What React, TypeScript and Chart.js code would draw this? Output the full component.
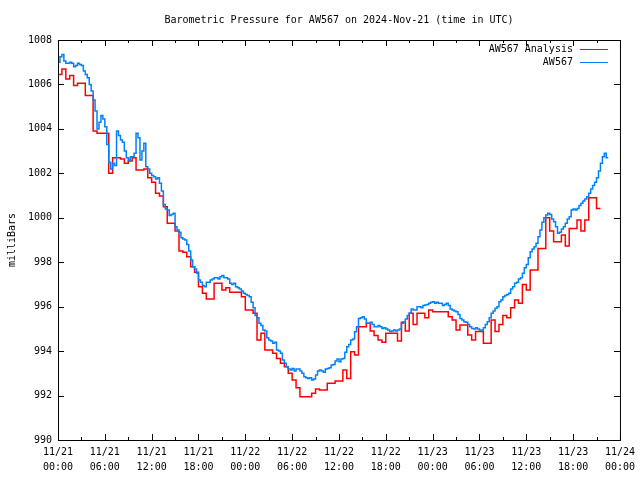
import React, { useEffect, useRef } from "react";
import { Chart, registerables } from "chart.js";

Chart.register(...registerables);

// ---------- data ----------
const TITLE = "Barometric Pressure for AW567 on 2024-Nov-21 (time in UTC)";
const Y_LABEL = "milliBars";
const SERIES_NAMES = ["AW567 Analysis", "AW567"];
const SERIES_COLORS = ["#ff0000", "#0080ff"];
const START_MONTH = 11;
const START_DAY = 21;
const ANALYSIS_STEP_HOURS = 0.5; // spacing of analysis samples
const STATION_STEP_HOURS = 0.25; // spacing of station samples
const X_MIN = 0;
const X_MAX = 72;
const X_MAJOR_STEP = 6;
const X_MINOR_STEP = 3;
const Y_MIN = 990;
const Y_MAX = 1008;
const Y_STEP = 2;

// AW567 Analysis (red, stepped), every 30 min from 11/21 00:00
const analysisValues = [
  1006.45, 1006.45, 1006.7, 1006.25, 1006.4, 1005.95, 1006.05, 1006.05, 1005.5, 1005.5,
  1003.9, 1003.8, 1003.8, 1003.8, 1002.0, 1002.7, 1002.7, 1002.65, 1002.45, 1002.55,
  1002.7, 1002.15, 1002.15, 1002.2, 1001.8, 1001.6, 1001.1, 1000.98, 1000.5, 999.75,
  999.75, 999.4, 998.5, 998.45, 998.25, 997.8, 997.55, 996.9, 996.6, 996.35,
  996.35, 997.05, 997.05, 996.75, 996.85, 996.65, 996.65, 996.65, 996.45, 995.85,
  995.85, 995.7, 994.5, 994.8, 994.05, 994.05, 993.9, 993.67, 993.45, 993.3,
  993.0, 992.7, 992.35, 991.95, 991.95, 991.95, 992.1, 992.3, 992.25, 992.25,
  992.55, 992.55, 992.65, 992.65, 993.15, 992.77, 993.97, 993.82, 995.1, 995.1,
  995.25, 994.9, 994.7, 994.5, 994.4, 994.8, 994.8, 994.8, 994.45, 995.3,
  994.9, 995.7, 995.2, 995.7, 995.7, 995.5, 995.85, 995.77, 995.77, 995.77,
  995.77, 995.55, 995.4, 994.95, 995.17, 995.17, 994.72, 994.5, 994.88, 994.88,
  994.35, 994.35, 995.4, 994.88, 995.2, 995.6, 995.5, 995.95, 996.3, 996.15,
  997.0, 996.75, 997.65, 997.65, 998.62, 998.62, 1000.0, 999.4, 998.92, 998.92,
  999.22, 998.73, 999.52, 999.52, 999.9, 999.4, 999.9, 1000.9, 1000.9, 1000.42,
];

// AW567 observations (blue), every 15 min from 11/21 00:00 (one row per hour)
const stationValues = [
  1007.1, 1007.0, 1007.25, 1007.35,
  1007.05, 1006.95, 1006.95, 1007.0,
  1006.95, 1006.8, 1006.85, 1006.95,
  1006.9, 1006.85, 1006.6, 1006.45,
  1006.3, 1006.0, 1005.7, 1005.3,
  1004.8, 1004.0, 1004.3, 1004.6,
  1004.45, 1004.1, 1003.3, 1002.5,
  1002.2, 1002.45, 1002.35, 1003.9,
  1003.7, 1003.5, 1003.4, 1003.0,
  1002.7, 1002.6, 1002.75, 1002.75,
  1002.9, 1003.8, 1003.6, 1002.6,
  1003.0, 1003.35, 1002.3, 1002.2,
  1002.0, 1001.9, 1001.85, 1001.75,
  1001.8, 1001.55, 1001.2, 1000.6,
  1000.4, 1000.35, 1000.1, 1000.15,
  1000.2, 999.6, 999.45, 999.35,
  999.1, 999.05, 999.0, 998.8,
  998.5, 998.1, 997.8, 997.7,
  997.5, 997.2, 997.1, 996.95,
  996.9, 997.1, 997.1, 997.2,
  997.25, 997.3, 997.3, 997.25,
  997.35, 997.4, 997.3, 997.3,
  997.25, 997.05, 997.0, 997.05,
  996.9, 996.85, 996.8, 996.7,
  996.6, 996.55, 996.5, 996.45,
  996.2, 995.95, 995.6, 995.5,
  995.25, 995.15, 994.95, 994.9,
  994.6, 994.5, 994.45, 994.35,
  994.4, 994.05, 994.0, 993.9,
  993.6, 993.45, 993.3, 993.2,
  993.15, 993.22, 993.1, 993.2,
  993.2, 993.1, 993.0, 992.85,
  992.8, 992.77, 992.8, 992.7,
  992.75, 992.92, 993.1, 993.15,
  993.1, 993.05, 993.2, 993.22,
  993.25, 993.37, 993.4, 993.55,
  993.65, 993.52, 993.65, 993.67,
  993.95, 994.2, 994.3, 994.5,
  994.55, 994.87, 995.1, 995.47,
  995.5, 995.55, 995.45, 995.25,
  995.25, 995.3, 995.2, 995.1,
  995.1, 995.15, 995.1, 995.02,
  995.05, 995.0, 994.95, 994.88,
  994.9, 994.95, 994.9, 994.95,
  995.0, 995.25, 995.3, 995.45,
  995.6, 995.7, 995.9, 995.85,
  995.85, 996.0, 996.0, 995.95,
  996.05, 996.07, 996.1, 996.15,
  996.2, 996.22, 996.15, 996.2,
  996.15, 996.15, 996.05, 996.1,
  996.15, 996.05, 995.9, 995.85,
  995.8, 995.77, 995.65, 995.47,
  995.4, 995.32, 995.3, 995.2,
  995.1, 995.02, 995.0, 995.05,
  995.0, 994.95, 994.95, 995.05,
  995.2, 995.32, 995.5, 995.7,
  995.8, 995.93, 996.0, 996.22,
  996.3, 996.45, 996.5, 996.55,
  996.6, 996.8, 996.9, 997.05,
  997.1, 997.25, 997.3, 997.5,
  997.75, 997.9, 998.2, 998.47,
  998.6, 998.7, 998.85, 999.15,
  999.45, 999.8, 1000.0, 1000.12,
  1000.2, 1000.15, 999.95, 999.82,
  999.6, 999.3, 999.35, 999.5,
  999.6, 999.75, 999.95, 1000.05,
  1000.35, 1000.4, 1000.35, 1000.42,
  1000.55, 1000.65, 1000.75, 1000.85,
  1000.95, 1001.1, 1001.3, 1001.45,
  1001.6, 1001.8, 1002.1, 1002.45,
  1002.75, 1002.9, 1002.7,
];

const FONT = "'DejaVu Sans Mono', 'Liberation Mono', monospace";

function toPoints(values: number[], step: number) {
  return values.map((v, i) => ({ x: i * step, y: v }));
}

function formatHourLabel(h: number): string[] {
  const day = START_DAY + Math.floor(h / 24);
  const hour = h % 24;
  const hh = String(hour).padStart(2, "0");
  return [`${START_MONTH}/${day}`, `${hh}:00`];
}

const framePlugin = {
  id: "gnuplotFrame",
  afterDatasetsDraw(chart: any) {
    const { ctx, chartArea: a, scales } = chart;
    const xs = scales.x;
    const ys = scales.y;
    ctx.save();
    ctx.strokeStyle = "#000";
    ctx.lineWidth = 1;
    ctx.beginPath();
    for (let h = X_MIN; h <= X_MAX; h += X_MINOR_STEP) {
      const px = Math.round(xs.getPixelForValue(h)) + 0.5;
      const len = h % X_MAJOR_STEP === 0 ? 6 : 3;
      ctx.moveTo(px, a.bottom);
      ctx.lineTo(px, a.bottom - len);
      ctx.moveTo(px, a.top);
      ctx.lineTo(px, a.top + len);
    }
    for (let v = Y_MIN; v <= Y_MAX; v += Y_STEP) {
      const py = Math.round(ys.getPixelForValue(v)) + 0.5;
      ctx.moveTo(a.left, py);
      ctx.lineTo(a.left + 6, py);
      ctx.moveTo(a.right, py);
      ctx.lineTo(a.right - 6, py);
    }
    ctx.stroke();
    ctx.strokeRect(a.left + 0.5, a.top + 0.5, a.right - a.left, a.bottom - a.top);

    ctx.font = `10px ${FONT}`;
    ctx.fillStyle = "#000";
    ctx.textAlign = "right";
    ctx.textBaseline = "middle";
    SERIES_NAMES.forEach((name, i) => {
      const y = a.top + 9.5 + i * 13;
      ctx.fillText(name, a.right - 47, y);
      ctx.strokeStyle = SERIES_COLORS[i];
      ctx.beginPath();
      ctx.moveTo(a.right - 40, y);
      ctx.lineTo(a.right - 12, y);
      ctx.stroke();
    });

    ctx.textAlign = "center";
    ctx.fillStyle = "#000";
    ctx.fillText(TITLE, (a.left + a.right) / 2, 20);

    ctx.save();
    ctx.translate(12, (a.top + a.bottom) / 2);
    ctx.rotate(-Math.PI / 2);
    ctx.fillText(Y_LABEL, 0, 0);
    ctx.restore();
    ctx.restore();
  },
};

export default function App() {
  const canvasRef = useRef<HTMLCanvasElement | null>(null);

  useEffect(() => {
    const canvas = canvasRef.current;
    if (!canvas) return;
    const chart = new Chart(canvas, {
      type: "line",
      data: {
        datasets: [
          {
            label: SERIES_NAMES[1],
            data: toPoints(stationValues, STATION_STEP_HOURS),
            borderColor: SERIES_COLORS[1],
            backgroundColor: SERIES_COLORS[1],
            borderWidth: 1.5,
            pointRadius: 0,
            stepped: "after",
            order: 0,
          },
          {
            label: SERIES_NAMES[0],
            data: toPoints(analysisValues, ANALYSIS_STEP_HOURS),
            borderColor: SERIES_COLORS[0],
            backgroundColor: SERIES_COLORS[0],
            borderWidth: 1.5,
            pointRadius: 0,
            stepped: "after",
            order: 1,
          },
        ],
      },
      options: {
        animation: false,
        responsive: false,
        maintainAspectRatio: false,
        layout: { padding: { top: 40, right: 18, left: 0, bottom: 0 } },
        plugins: {
          legend: { display: false },
          title: { display: false },
          tooltip: { enabled: false },
        },
        scales: {
          x: {
            type: "linear",
            min: X_MIN,
            max: X_MAX,
            grid: { display: false, drawTicks: false },
            border: { display: false },
            afterFit: (s: any) => {
              s.height = 40;
            },
            ticks: {
              stepSize: X_MAJOR_STEP,
              maxRotation: 0,
              autoSkip: false,
              padding: 5,
              color: "#000",
              font: { family: FONT, size: 10, lineHeight: 1.5 },
              callback: (v: any) => formatHourLabel(Number(v)),
            },
          },
          y: {
            type: "linear",
            min: Y_MIN,
            max: Y_MAX,
            grid: { display: false, drawTicks: false },
            border: { display: false },
            afterFit: (s: any) => {
              s.width = 58;
            },
            ticks: {
              stepSize: Y_STEP,
              padding: 6,
              color: "#000",
              font: { family: FONT, size: 10 },
              callback: (v: any) => String(v),
            },
          },
        },
      },
      plugins: [framePlugin],
    });
    return () => chart.destroy();
  }, []);

  return (
    <div style={{ position: "fixed", left: 0, top: 0, width: 640, height: 480, background: "#fff" }}>
      <canvas ref={canvasRef} width={640} height={480} style={{ display: "block" }} />
    </div>
  );
}
